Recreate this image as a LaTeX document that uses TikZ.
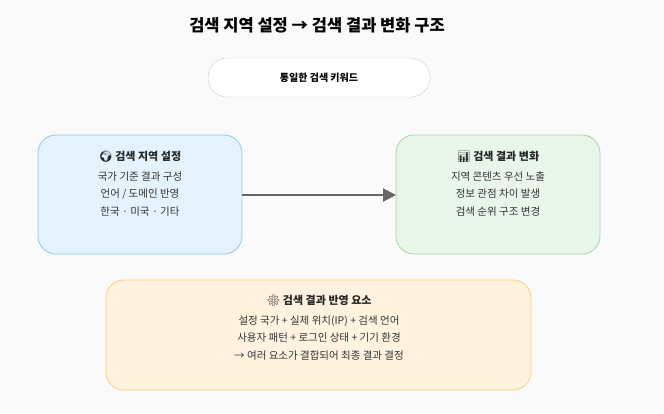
\documentclass[tikz,border=0pt]{standalone}
\usepackage{fontspec}
\setmainfont{Noto Sans CJK KR}
\newfontfamily\emo{Noto Emoji}
\usetikzlibrary{arrows.meta}
\definecolor{lbF}{HTML}{E3F2FD}\definecolor{lbD}{HTML}{90CAF9}
\definecolor{rbF}{HTML}{E8F5E9}\definecolor{rbD}{HTML}{A5D6A7}
\definecolor{bbF}{HTML}{FFF3E0}\definecolor{bbD}{HTML}{FFCC80}
\begin{document}
\begin{tikzpicture}[x=1pt,y=-1pt,
  box/.style={draw, rounded corners=18pt, line width=0.8pt},
  ttl/.style={font=\fontsize{11}{13}\selectfont\bfseries, text=black!85},
  body/.style={font=\fontsize{10.5}{17.5}\selectfont, text=black!80, align=center}]
\fill[black!2] (0,0) rectangle (664,413);
\useasboundingbox (0,0) rectangle (664,413);
\node[font=\fontsize{16.5}{18}\selectfont\bfseries] (title) at (317,25) {검색 지역 설정 → 검색 결과 변화 구조};
\node[draw=black!20, fill=white, rounded corners=19pt, minimum width=222pt, minimum height=39pt, font=\fontsize{10}{12}\selectfont\bfseries] (kw) at (319,77.5) {통일한 검색 키워드};
\draw[box, draw=lbD, fill=lbF] (38,135) rectangle (242,254);
\coordinate (L) at (242,195);
\node[ttl] (lt) at (140,157) {{\emo 🌍} 검색 지역 설정};
\node[body, anchor=north] (lb) at (140,168) {국가 기준 결과 구성\\언어 / 도메인 반영\\한국 · 미국 · 기타};
\draw[box, draw=rbD, fill=rbF] (396,135) rectangle (600,254);
\coordinate (R) at (396,195);
\node[ttl] (rt) at (498,157) {{\emo 📊} 검색 결과 변화};
\node[body, anchor=north] (rb) at (498,168) {지역 콘텐츠 우선 노출\\정보 관점 차이 발생\\검색 순위 구조 변경};
\draw[black!60, line width=2pt, -{Triangle[length=13pt,width=13pt]}] (L) -- (R);
\draw[box, draw=bbD, fill=bbF] (106,280) rectangle (531,390);
\node[ttl] (bt) at (319,301) {{\emo ⚙} 검색 결과 반영 요소};
\node[body, anchor=north] (bb) at (319,312) {설정 국가 + 실제 위치(IP) + 검색 언어\\사용자 패턴 + 로그인 상태 + 기기 환경\\→ 여러 요소가 결합되어 최종 결과 결정};
\end{tikzpicture}
\end{document}
